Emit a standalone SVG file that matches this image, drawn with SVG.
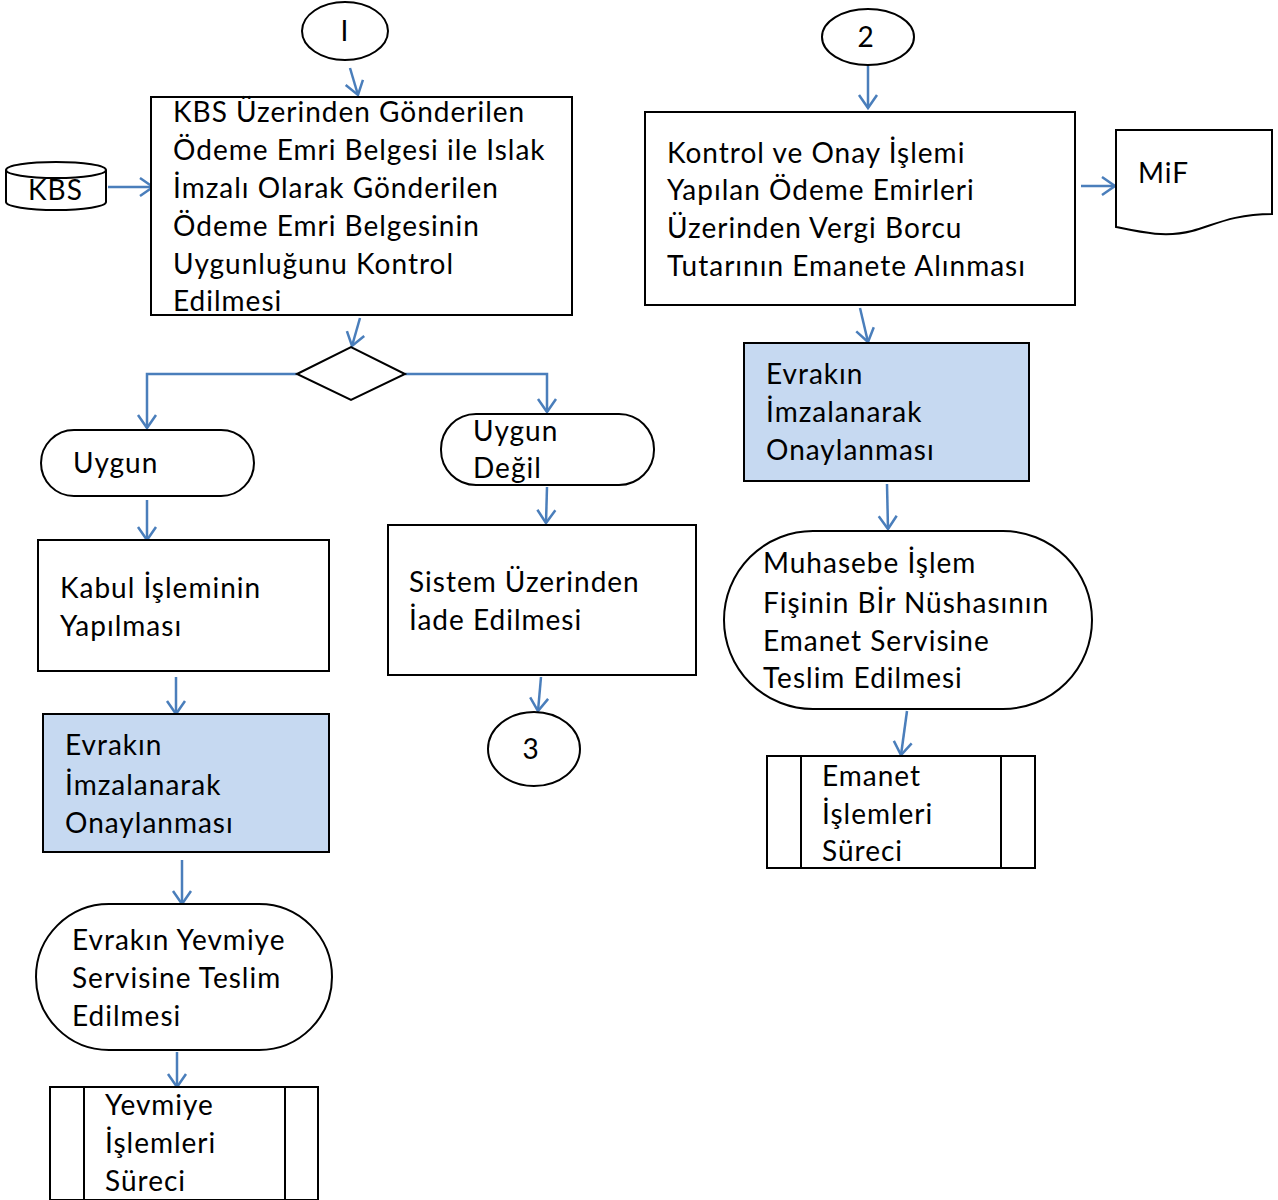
<svg xmlns="http://www.w3.org/2000/svg" width="1278" height="1200" viewBox="0 0 1278 1200">
<defs>
<marker id="arr" markerWidth="20" markerHeight="22" refX="15" refY="11" orient="auto" markerUnits="userSpaceOnUse">
<path d="M2,2 L15,11 L2,20" fill="none" stroke="#4a7ebb" stroke-width="2.5"/>
</marker>
<style>
.s{fill:#fff;stroke:#000;stroke-width:2}
.f{fill:#c6d9f1;stroke:#000;stroke-width:2}
.t{font-family:"Lato","Open Sans",sans-serif;font-size:28px;letter-spacing:1px;fill:#000}
.c{fill:none;stroke:#4a7ebb;stroke-width:2.5;marker-end:url(#arr)}
</style>
</defs>
<rect width="1278" height="1200" fill="#fff"/>
<g id="connectors">
<path class="c" d="M350,68 L358,95"/>
<path class="c" d="M108,187 L153,187"/>
<path class="c" d="M360,318 L352,346"/>
<path class="c" d="M297,374 H147 V428"/>
<path class="c" d="M405,374 H547 V412"/>
<path class="c" d="M147,500 V540"/>
<path class="c" d="M547,487 L546,523"/>
<path class="c" d="M541,677 L538,711"/>
<path class="c" d="M176,677 V714"/>
<path class="c" d="M182,860 V904"/>
<path class="c" d="M177,1052 V1087"/>
<path class="c" d="M868,66 V108"/>
<path class="c" d="M1081,186 H1115"/>
<path class="c" d="M860,308 L868,342"/>
<path class="c" d="M887,484 L888,529"/>
<path class="c" d="M907,711 L901,755"/>
</g>
<g id="n1"><ellipse class="s" cx="345" cy="31" rx="43" ry="29"/><text class="t" x="345" y="41" text-anchor="middle">I</text></g>
<g id="n2"><ellipse class="s" cx="868" cy="37" rx="46" ry="28"/><text class="t" x="866" y="47" text-anchor="middle">2</text></g>
<g id="kbs"><path class="s" d="M6,170 V202 A50,8 0 0 0 106,202 V170"/><ellipse class="s" cx="56" cy="170" rx="50" ry="8"/><text class="t" x="28" y="200">KBS</text></g>
<g id="box1"><rect class="s" x="151" y="97" width="421" height="218"/>
<text class="t"><tspan x="173" y="122">KBS Üzerinden Gönderilen</tspan><tspan x="173" y="160">Ödeme Emri Belgesi ile Islak</tspan><tspan x="173" y="198">İmzalı Olarak Gönderilen</tspan><tspan x="173" y="236">Ödeme Emri Belgesinin</tspan><tspan x="173" y="274">Uygunluğunu Kontrol</tspan><tspan x="173" y="311">Edilmesi</tspan></text></g>
<g id="diamond"><polygon class="s" points="297,374 351,347 405,374 351,400"/></g>
<g id="uygun"><rect class="s" x="41" y="430" width="213" height="66" rx="33"/><text class="t" x="73" y="473">Uygun</text></g>
<g id="uygundegil"><rect class="s" x="441" y="414" width="213" height="71" rx="35"/><text class="t"><tspan x="473" y="441">Uygun</tspan><tspan x="473" y="478">Değil</tspan></text></g>
<g id="kabul"><rect class="s" x="38" y="540" width="291" height="131"/><text class="t"><tspan x="60" y="598">Kabul İşleminin</tspan><tspan x="60" y="636">Yapılması</tspan></text></g>
<g id="sistem"><rect class="s" x="388" y="525" width="308" height="150"/><text class="t"><tspan x="409" y="592">Sistem Üzerinden</tspan><tspan x="409" y="630">İade Edilmesi</tspan></text></g>
<g id="n3"><ellipse class="s" cx="534" cy="749" rx="46" ry="37"/><text class="t" x="531" y="759" text-anchor="middle">3</text></g>
<g id="evrak1"><rect class="f" x="43" y="714" width="286" height="138"/><text class="t"><tspan x="65" y="755">Evrakın</tspan><tspan x="65" y="795">İmzalanarak</tspan><tspan x="65" y="833">Onaylanması</tspan></text></g>
<g id="yevmiyeteslim"><rect class="s" x="36" y="904" width="296" height="146" rx="73"/><text class="t"><tspan x="72" y="950">Evrakın Yevmiye</tspan><tspan x="72" y="988">Servisine Teslim</tspan><tspan x="72" y="1026">Edilmesi</tspan></text></g>
<g id="yevmiye"><rect class="s" x="50" y="1087" width="268" height="113"/><line class="s" x1="84" y1="1087" x2="84" y2="1200"/><line class="s" x1="285" y1="1087" x2="285" y2="1200"/><text class="t"><tspan x="105" y="1115">Yevmiye</tspan><tspan x="105" y="1153">İşlemleri</tspan><tspan x="105" y="1191">Süreci</tspan></text></g>
<g id="kontrol"><rect class="s" x="645" y="112" width="430" height="193"/><text class="t"><tspan x="667" y="163">Kontrol ve Onay İşlemi</tspan><tspan x="667" y="200">Yapılan Ödeme Emirleri</tspan><tspan x="667" y="238">Üzerinden Vergi Borcu</tspan><tspan x="667" y="276">Tutarının Emanete Alınması</tspan></text></g>
<g id="mif"><path class="s" d="M1116,130 H1272 V214 C1232,214 1212,226 1192,231 C1165,238 1140,232 1116,227 Z"/><text class="t" x="1138" y="183">MiF</text></g>
<g id="evrak2"><rect class="f" x="744" y="343" width="285" height="138"/><text class="t"><tspan x="766" y="384">Evrakın</tspan><tspan x="766" y="422">İmzalanarak</tspan><tspan x="766" y="460">Onaylanması</tspan></text></g>
<g id="muhasebe"><rect class="s" x="724" y="531" width="368" height="178" rx="89"/><text class="t"><tspan x="763" y="573">Muhasebe İşlem</tspan><tspan x="763" y="613">Fişinin Bİr Nüshasının</tspan><tspan x="763" y="651">Emanet Servisine</tspan><tspan x="763" y="688">Teslim Edilmesi</tspan></text></g>
<g id="emanet"><rect class="s" x="767" y="756" width="268" height="112"/><line class="s" x1="801" y1="756" x2="801" y2="868"/><line class="s" x1="1001" y1="756" x2="1001" y2="868"/><text class="t"><tspan x="822" y="786">Emanet</tspan><tspan x="822" y="824">İşlemleri</tspan><tspan x="822" y="861">Süreci</tspan></text></g>
</svg>
